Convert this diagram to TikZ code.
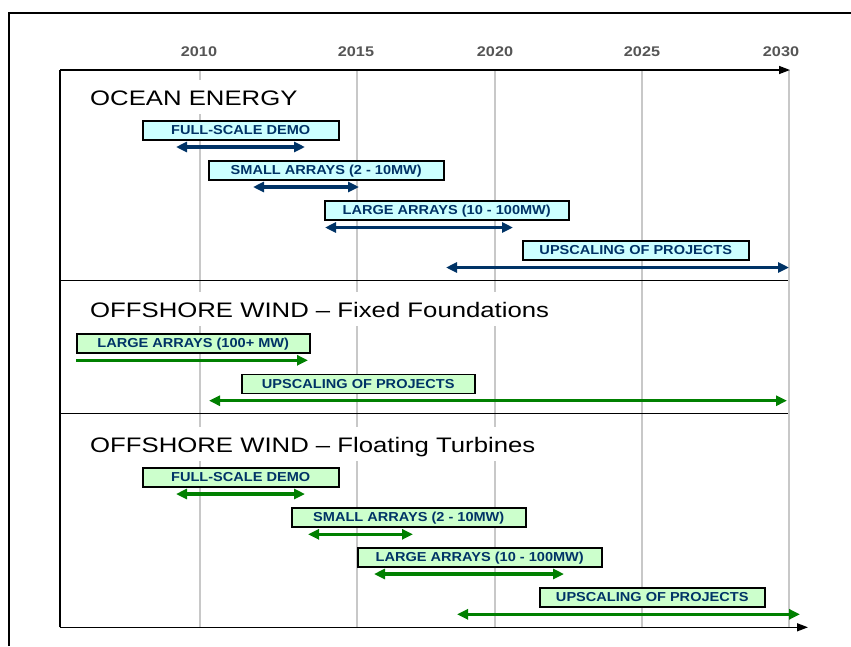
\documentclass[tikz,border=0pt]{standalone}
\usepackage{fontspec}
\setmainfont{Liberation Sans}
\newfontfamily\titlefont[FakeStretch=1.225]{Liberation Sans}
\newfontfamily\boxfont[FakeStretch=1.12]{Liberation Sans}
\newfontfamily\yearfont[FakeStretch=1.16]{Liberation Sans}
\usetikzlibrary{arrows.meta}
\definecolor{navy}{RGB}{0,51,102}
\definecolor{greenline}{RGB}{0,128,0}
\definecolor{cyanfill}{RGB}{204,255,255}
\definecolor{greenfill}{RGB}{204,255,204}
\definecolor{gridgray}{RGB}{200,200,200}
\definecolor{yeargray}{RGB}{85,85,85}
\tikzset{
  gridline/.style={draw=gridgray, line width=1.2pt},
  sepline/.style={draw=black, line width=1.1pt},
  frameline/.style={draw=black, line width=1.4pt},
  axisarrow/.style={draw=black, line width=1.4pt, -{Triangle[length=11pt,width=8pt]}},
  sectitle/.style={anchor=base west, fill=white, font=\titlefont\fontsize{21}{25}\selectfont,
    text height=21pt, text depth=5pt, inner ysep=4pt, inner xsep=8pt},
  yearlabel/.style={anchor=base, font=\yearfont\bfseries\fontsize{14}{16}\selectfont, text=yeargray},
  tbox/.style={draw=black, line width=1.5pt, anchor=north west, minimum height=19pt, inner sep=0pt,
    text=navy, font=\boxfont\bfseries\fontsize{13}{15}\selectfont, text height=9.3pt, text depth=0pt},
  obox/.style={tbox, fill=cyanfill},
  gbox/.style={tbox, fill=greenfill},
  oarr/.style={draw=navy, line width=3.2pt, {Triangle[length=11pt,width=10pt]}-{Triangle[length=11pt,width=10pt]}},
  garr/.style={draw=greenline, line width=3.2pt, {Triangle[length=11pt,width=10pt]}-{Triangle[length=11pt,width=10pt]}},
  garrR/.style={draw=greenline, line width=3.2pt, -{Triangle[length=11pt,width=10pt]}}
}
\begin{document}
\begin{tikzpicture}[x=1pt,y=-1pt]
\useasboundingbox (0,0) rectangle (851,646);
% outer frame
\draw[frameline] (9,646) -- (9,13) -- (851,13);
% grid lines
\foreach \gx in {200,357,495,642,789} {\draw[gridline] (\gx,70) -- (\gx,627);}
% year labels
\node[yearlabel] (y2010) at (199,56) {2010};
\node[yearlabel] (y2015) at (356,56) {2015};
\node[yearlabel] (y2020) at (495,56) {2020};
\node[yearlabel] (y2025) at (642,56) {2025};
\node[yearlabel] (y2030) at (781,56) {2030};
% separators
\draw[sepline] (60,280.5) -- (788,280.5);
\draw[sepline] (60,413.3) -- (788,413.3);
% axes
\draw[frameline] (60,627.3) -- (60,70);
\draw[axisarrow] (60,70) -- (790,70);
\draw[axisarrow] (60,627.3) -- (808,627.3);
% section titles
\node[sectitle] (t1) at (82,105) {OCEAN ENERGY};
\node[sectitle] (t2) at (82,317) {OFFSHORE WIND – Fixed Foundations};
\node[sectitle] (t3) at (82,452) {OFFSHORE WIND – Floating Turbines};
% ocean energy
\node[obox, minimum width=196pt] (o1) at (142,120) {FULL-SCALE DEMO};
\draw[oarr] (176,147) -- (305,147);
\node[obox, minimum width=235pt] (o2) at (208,160) {SMALL ARRAYS (2 - 10MW)};
\draw[oarr] (253,187) -- (359,187);
\node[obox, minimum width=244pt] (o3) at (324,200) {LARGE ARRAYS (10 - 100MW)};
\draw[oarr] (325,227.5) -- (513,227.5);
\node[obox, minimum width=226pt] (o4) at (522,240) {UPSCALING OF PROJECTS};
\draw[oarr] (446,267.5) -- (789,267.5);
% fixed foundations
\node[gbox, minimum width=233pt] (f1) at (76,333) {LARGE ARRAYS (100+ MW)};
\draw[garrR] (76,360.3) -- (308,360.3);
\node[gbox, minimum width=233pt] (f2) at (241,373.5) {UPSCALING OF PROJECTS};
\draw[garr] (209,400.7) -- (787,400.7);
% floating turbines
\node[gbox, minimum width=196pt] (g1) at (142,467) {FULL-SCALE DEMO};
\draw[garr] (176,494) -- (305,494);
\node[gbox, minimum width=234pt] (g2) at (291,507) {SMALL ARRAYS (2 - 10MW)};
\draw[garr] (308,534.3) -- (413,534.3);
\node[gbox, minimum width=244pt] (g3) at (357,547) {LARGE ARRAYS (10 - 100MW)};
\draw[garr] (374,574) -- (564,574);
\node[gbox, minimum width=225pt] (g4) at (539,587) {UPSCALING OF PROJECTS};
\draw[garr] (457,614.3) -- (800,614.3);
\end{tikzpicture}
\end{document}
